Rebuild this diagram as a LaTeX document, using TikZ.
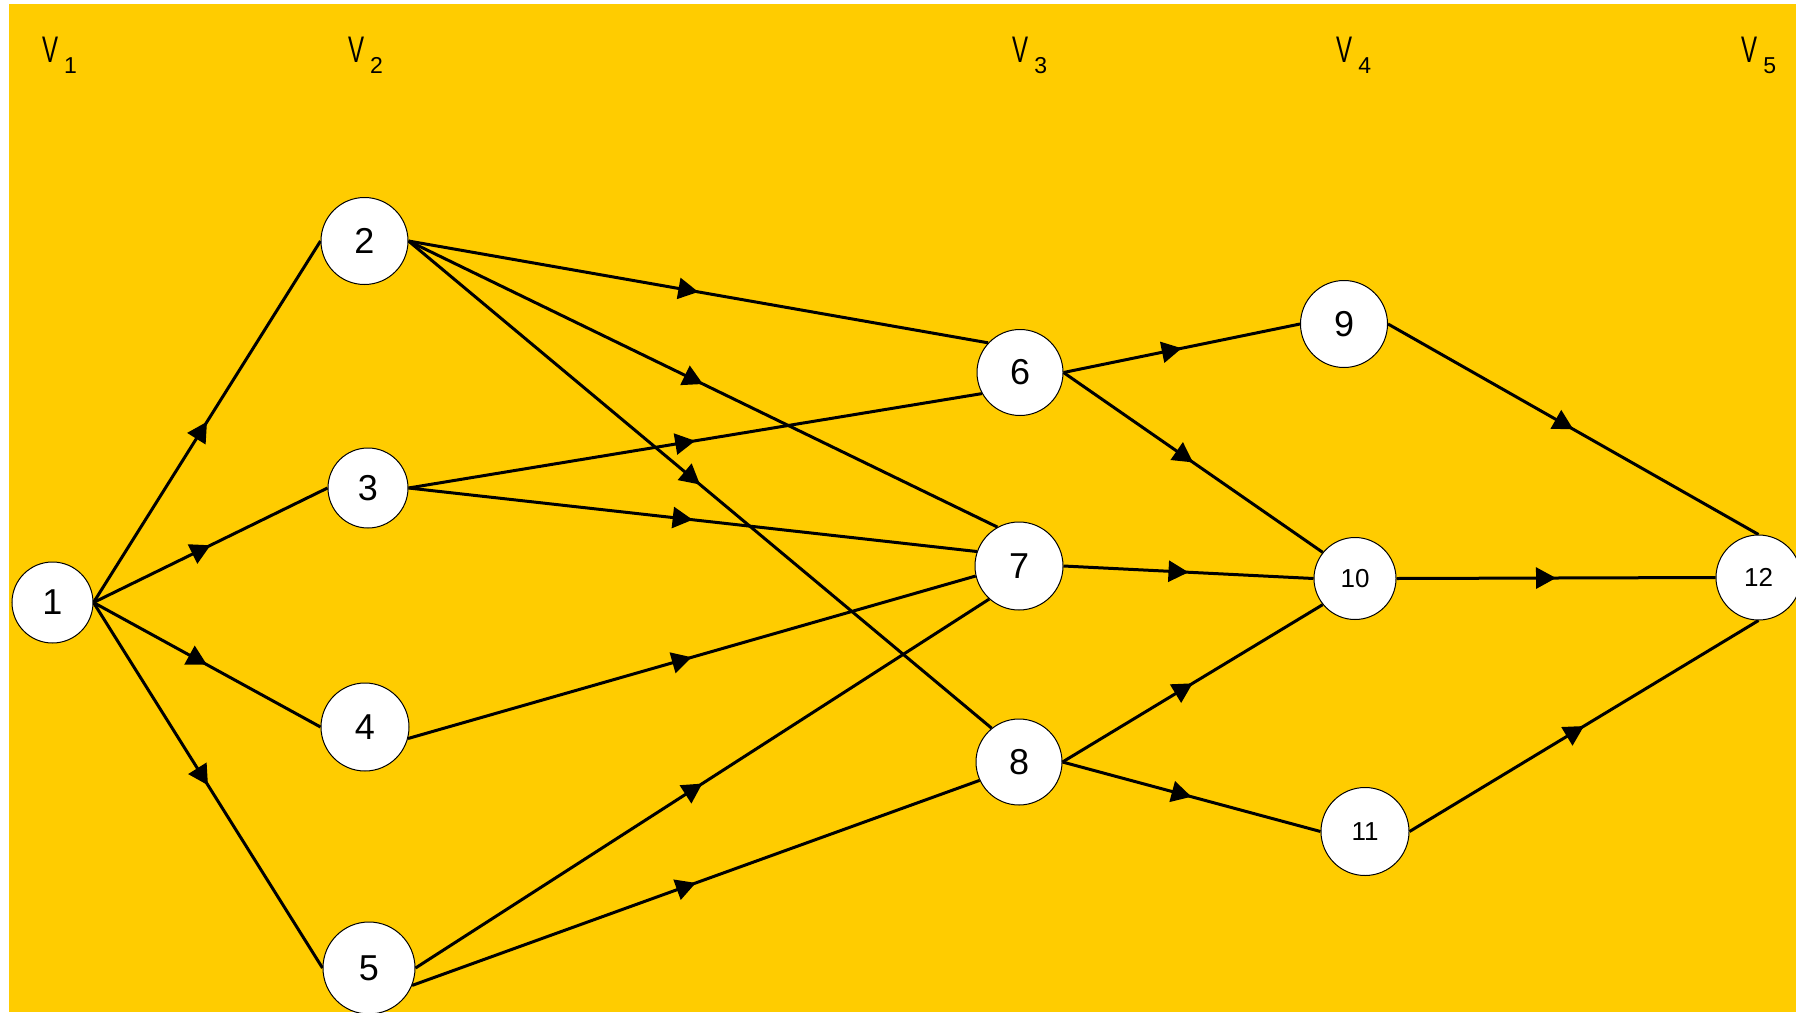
\documentclass[tikz,border=0pt]{standalone}
\usepackage{fontspec}
\setmainfont{Liberation Sans}
\usetikzlibrary{arrows.meta,decorations.markings}
\definecolor{bgyellow}{HTML}{FFCC00}
\pgfdeclarelayer{background}
\pgfsetlayers{background,main}
\newcommand\vlab[1]{\scalebox{0.65}[1]{V}\hspace{6pt}\raisebox{-11pt}{\fontsize{23}{23}\selectfont #1}}
\begin{document}
\begin{tikzpicture}[x=1pt,y=-1pt,
  vtx/.style={circle, draw=black, line width=1pt, fill=white, inner sep=0pt, font=\fontsize{36}{40}\selectfont},
  vtxs/.style={vtx, font=\fontsize{26}{30}\selectfont},
  edge/.style={line width=3pt, postaction={decorate},
    decoration={markings, mark=at position 0.5 with {\arrow{Triangle[length=20pt,width=21pt]}}}},
  lvl/.style={anchor=base west, inner sep=0pt, font=\fontsize{37}{40}\selectfont}]
\useasboundingbox (0,0) rectangle (1796,1012);

\node[vtx, minimum size=81pt] (n1) at (52.5,602.5) {1};
\node[vtx, minimum size=87pt] (n2) at (364.5,241) {2};
\node[vtx, minimum size=80pt] (n3) at (368,488) {3};
\node[vtx, minimum size=88pt] (n4) at (365,727) {4};
\node[vtx, minimum size=92pt] (n5) at (369,968) {5};
\node[vtx, minimum size=86pt] (n6) at (1020,372.5) {6};
\node[vtx, minimum size=88pt] (n7) at (1019,566) {7};
\node[vtx, minimum size=86pt] (n8) at (1019,762) {8};
\node[vtx, minimum size=87pt] (n9) at (1344,324) {9};
\node[vtxs, minimum size=82pt] (n10) at (1355,578.5) {10};
\node[vtxs, minimum size=88pt] (n11) at (1365,831.5) {11};
\node[vtxs, minimum size=85pt] (n12) at (1758.5,577.5) {12};

\node[lvl] (v1) at (42,62) {\vlab{1}};
\node[lvl] (v2) at (348,62) {\vlab{2}};
\node[lvl] (v3) at (1012,62) {\vlab{3}};
\node[lvl] (v4) at (1336,62) {\vlab{4}};
\node[lvl] (v5) at (1741,62) {\vlab{5}};

\begin{pgfonlayer}{background}
\fill[bgyellow] (9,4) rectangle (1796,1012);
\draw[edge] (n1.east) -- (n2.west);
\draw[edge] (n1.east) -- (n3.west);
\draw[edge] (n1.east) -- (n4.west);
\draw[edge] (n1.east) -- (n5.west);
\draw[edge] (n2.east) -- (n6.137);
\draw[edge] (n2.east) -- (n7.119);
\draw[edge] (n2.east) -- (n8.129);
\draw[edge] (n3.east) -- (n6.209);
\draw[edge] (n3.east) -- (n7.161);
\draw[edge] (n4.-15) -- (n7.193);
\draw[edge] (n5.east) -- (n7.228);
\draw[edge] (n5.-22) -- (n8.205);
\draw[edge] (n6.east) -- (n9.west);
\draw[edge] (n6.east) -- (n10.141);
\draw[edge] (n7.east) -- (n10.west);
\draw[edge] (n8.east) -- (n10.219);
\draw[edge] (n8.east) -- (n11.west);
\draw[edge] (n9.east) -- (n12.north);
\draw[edge] (n10.east) -- (n12.west);
\draw[edge] (n11.east) -- (n12.south);
\end{pgfonlayer}
\end{tikzpicture}
\end{document}
